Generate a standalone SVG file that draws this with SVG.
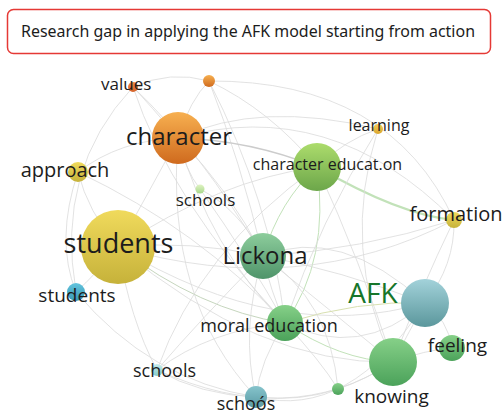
<svg xmlns="http://www.w3.org/2000/svg" width="502" height="414" viewBox="0 0 502 414">
<style>
.e{fill:none;stroke:#dadada;stroke-width:0.8}
.g{fill:none;stroke:#c2e2b9;stroke-width:1}
.t{font-family:"Open Sans","Noto Sans",sans-serif;fill:#1c1c1c}
</style>
<defs>
<linearGradient id="gOr" x1="0" y1="0" x2="0" y2="1"><stop offset="0" stop-color="#f7b050"/><stop offset="1" stop-color="#cf6a1e"/></linearGradient>
<linearGradient id="gRd" x1="0" y1="0" x2="0" y2="1"><stop offset="0" stop-color="#f08a48"/><stop offset="1" stop-color="#d4622a"/></linearGradient>
<linearGradient id="gYe" x1="0" y1="0" x2="0" y2="1"><stop offset="0" stop-color="#f0da5c"/><stop offset="1" stop-color="#c6b23a"/></linearGradient>
<linearGradient id="gYo" x1="0" y1="0" x2="0" y2="1"><stop offset="0" stop-color="#f5cd5a"/><stop offset="1" stop-color="#d9a52e"/></linearGradient>
<linearGradient id="gCe" x1="0" y1="0" x2="0" y2="1"><stop offset="0" stop-color="#acdc6c"/><stop offset="1" stop-color="#6ca64a"/></linearGradient>
<linearGradient id="gLk" x1="0" y1="0" x2="0" y2="1"><stop offset="0" stop-color="#8dcd9c"/><stop offset="1" stop-color="#4f946a"/></linearGradient>
<linearGradient id="gGr" x1="0" y1="0" x2="0" y2="1"><stop offset="0" stop-color="#86d088"/><stop offset="1" stop-color="#4ba25a"/></linearGradient>
<linearGradient id="gAf" x1="0" y1="0" x2="0" y2="1"><stop offset="0" stop-color="#a3d2da"/><stop offset="1" stop-color="#5b979c"/></linearGradient>
<linearGradient id="gBl" x1="0" y1="0" x2="0" y2="1"><stop offset="0" stop-color="#62c4de"/><stop offset="1" stop-color="#3a98b4"/></linearGradient>
<linearGradient id="gTl" x1="0" y1="0" x2="0" y2="1"><stop offset="0" stop-color="#c6ecec"/><stop offset="1" stop-color="#86cbcb"/></linearGradient>
<linearGradient id="gSo" x1="0" y1="0" x2="0" y2="1"><stop offset="0" stop-color="#86c4cc"/><stop offset="1" stop-color="#5a9aa4"/></linearGradient>
<linearGradient id="gLg" x1="0" y1="0" x2="0" y2="1"><stop offset="0" stop-color="#e0f3c4"/><stop offset="1" stop-color="#a8d88a"/></linearGradient>
</defs>
<rect width="502" height="414" fill="#ffffff"/>
<g id="title">
<rect x="7.5" y="9.5" width="483" height="44" rx="6" fill="#ffffff" stroke="#e53935" stroke-width="1.5"/>
<text x="21" y="37" font-family="'Noto Sans','Open Sans',sans-serif" font-size="16" fill="#1c1c1c" textLength="454" lengthAdjust="spacingAndGlyphs">Research gap in applying the AFK model starting from action</text>
</g>
<g id="connectors">
<path class="e" d="M133,87 Q170,70 209,81"/>
<path class="e" d="M133,87 Q150,105 178,138"/>
<path class="e" d="M133,87 Q55,170 76,292"/>
<path class="e" d="M133,87 Q200,150 263,256"/>
<path class="e" d="M133,87 Q170,200 285,323"/>
<path class="e" d="M209,81 Q190,100 178,138"/>
<path class="e" d="M209,81 Q240,160 263,256"/>
<path class="e" d="M209,81 Q270,110 317,167"/>
<path class="e" d="M209,81 Q390,80 454,220"/>
<path class="e" d="M209,81 Q270,200 285,323"/>
<path class="e" d="M178,138 Q250,140 317,167" style="stroke:#cccccc;stroke-width:1.3"/>
<path class="e" d="M178,138 Q260,100 378,129"/>
<path class="e" d="M178,138 Q330,95 454,220"/>
<path class="e" d="M178,138 Q120,140 78,172"/>
<path class="e" d="M178,138 Q150,190 118,247"/>
<path class="e" d="M178,138 Q230,190 263,256"/>
<path class="e" d="M178,138 Q210,250 285,323"/>
<path class="e" d="M178,138 Q185,170 200,189"/>
<path class="e" d="M178,138 Q165,300 256,397"/>
<path class="e" d="M317,167 Q345,140 378,129"/>
<path class="g" d="M317,167 Q400,215 454,220" style="stroke-width:2.2"/>
<path class="g" d="M317,167 Q280,200 263,256"/>
<path class="g" d="M317,167 Q330,260 285,323"/>
<path class="e" d="M317,167 Q360,260 393,362"/>
<path class="e" d="M317,167 Q220,180 118,247"/>
<path class="e" d="M378,129 Q340,250 393,362"/>
<path class="e" d="M378,129 Q320,220 285,323"/>
<path class="e" d="M454,220 Q300,300 118,247"/>
<path class="e" d="M454,220 Q360,250 263,256"/>
<path class="e" d="M454,220 Q455,265 425,303"/>
<path class="e" d="M454,220 Q420,290 393,362"/>
<path class="e" d="M78,172 Q88,212 118,247"/>
<path class="e" d="M78,172 Q55,240 76,292"/>
<path class="e" d="M78,172 Q200,230 285,323"/>
<path class="e" d="M118,247 Q190,240 263,256"/>
<path class="g" d="M118,247 Q200,310 285,323" style="stroke:#c6d6be"/>
<path class="e" d="M118,247 Q280,345 425,303"/>
<path class="e" d="M118,247 Q260,365 393,362"/>
<path class="e" d="M118,247 Q95,275 76,292"/>
<path class="e" d="M118,247 Q130,320 157,370"/>
<path class="e" d="M263,256 Q270,290 285,323"/>
<path class="e" d="M263,256 Q340,270 425,303"/>
<path class="e" d="M263,256 Q340,225 425,303"/>
<path class="e" d="M263,256 Q330,310 393,362"/>
<path class="e" d="M263,256 Q200,320 157,370"/>
<path class="e" d="M263,256 Q240,330 256,397"/>
<path class="g" d="M285,323 Q360,300 425,303" style="stroke:#d8e0b0"/>
<path class="e" d="M285,323 Q360,360 425,303"/>
<path class="g" d="M285,323 Q340,360 393,362"/>
<path class="e" d="M285,323 Q320,360 338,389"/>
<path class="e" d="M285,323 Q210,330 157,370"/>
<path class="e" d="M285,323 Q260,360 256,397"/>
<path class="e" d="M425,303 Q448,320 452,348"/>
<path class="e" d="M425,303 Q410,330 393,362"/>
<path class="e" d="M393,362 Q425,350 452,348"/>
<path class="e" d="M393,362 Q365,380 338,389"/>
<path class="e" d="M338,389 Q300,402 256,397"/>
<path class="e" d="M256,397 Q200,395 157,370"/>
<path class="e" d="M76,292 Q150,380 256,397"/>
<path class="e" d="M200,189 Q240,210 263,256"/>
<path class="e" d="M200,189 Q250,260 285,323"/>
<path class="e" d="M338,389 Q330,300 263,256"/>
<path class="e" d="M157,370 Q290,430 393,362"/>
<path class="e" d="M425,303 Q350,420 256,397"/>
<path class="e" d="M157,370 Q200,250 317,167"/>
</g>
<g id="n-values"><circle cx="133" cy="87" r="5" fill="url(#gRd)"/><text class="t" x="101" y="90" font-size="17">values</text></g>
<g id="n-orange"><circle cx="209" cy="81" r="6" fill="url(#gOr)"/></g>
<g id="n-character"><circle cx="178" cy="138" r="26" fill="url(#gOr)"/><text class="t" x="179" y="145" font-size="24" text-anchor="middle">character</text></g>
<g id="n-learning"><circle cx="378" cy="129" r="5" fill="url(#gYo)"/><text class="t" x="379" y="131" font-size="16" text-anchor="middle">learning</text></g>
<g id="n-chared"><circle cx="317" cy="167" r="24" fill="url(#gCe)"/><text class="t" x="327.5" y="170" font-size="16" text-anchor="middle">character educat.on</text></g>
<g id="n-approach"><circle cx="78" cy="172" r="10" fill="url(#gYe)"/><text class="t" x="65" y="177" font-size="20" text-anchor="middle">approach</text></g>
<g id="n-schools1"><circle cx="200" cy="189" r="4.5" fill="url(#gLg)"/><text class="t" x="205.5" y="206" font-size="17" text-anchor="middle">schools</text></g>
<g id="n-formation"><circle cx="454" cy="220" r="8" fill="url(#gYe)"/><text class="t" x="456" y="221" font-size="20" text-anchor="middle">formation</text></g>
<g id="n-students"><circle cx="118" cy="247" r="37" fill="url(#gYe)"/><text class="t" x="118.5" y="253" font-size="27" text-anchor="middle">students</text></g>
<g id="n-lickona"><circle cx="263" cy="256" r="23" fill="url(#gLk)"/><text class="t" x="265" y="264" font-size="24" text-anchor="middle">Lickona</text></g>
<g id="n-afk"><circle cx="425" cy="303" r="24" fill="url(#gAf)"/><text x="373" y="303" font-family="'Open Sans','Noto Sans',sans-serif" font-size="28" fill="#17762a" text-anchor="middle">AFK</text></g>
<g id="n-students2"><circle cx="76" cy="292" r="9" fill="url(#gBl)"/><text class="t" x="77" y="302" font-size="19" text-anchor="middle">students</text></g>
<g id="n-moral"><circle cx="285" cy="323" r="18" fill="url(#gGr)"/><text class="t" x="269" y="332" font-size="18" text-anchor="middle">moral education</text></g>
<g id="n-feeling"><circle cx="452" cy="348" r="13" fill="url(#gGr)"/><text class="t" x="457.5" y="352" font-size="19" text-anchor="middle">feeling</text></g>
<g id="n-knowing"><circle cx="393" cy="362" r="24" fill="url(#gGr)"/><text class="t" x="391.5" y="403" font-size="19" text-anchor="middle">knowing</text></g>
<g id="n-schools2"><circle cx="157" cy="370" r="6" fill="url(#gTl)"/><text class="t" x="164.5" y="377" font-size="18" text-anchor="middle">schools</text></g>
<g id="n-small"><circle cx="338" cy="389" r="6" fill="url(#gGr)"/></g>
<g id="n-schools3"><circle cx="256" cy="397" r="11" fill="url(#gSo)"/><text class="t" x="246" y="410" font-size="18" text-anchor="middle">schoós</text></g>
</svg>
